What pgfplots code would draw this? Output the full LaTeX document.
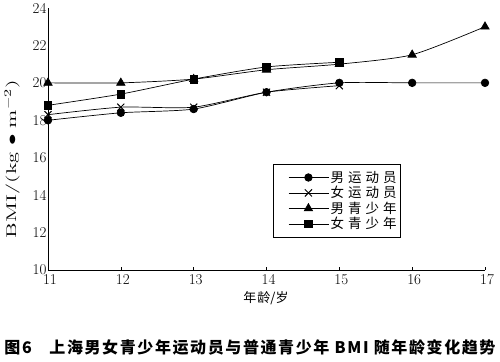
\documentclass[border=0pt]{standalone}
\usepackage{fontspec}
\usepackage{graphicx}
\usepackage{pgfplots}
\pgfplotsset{compat=1.18}
\newfontfamily\cjk{Noto Sans CJK SC}
\begin{document}
\begin{tikzpicture}
\useasboundingbox (-48pt,-91pt) rectangle (452pt,270pt);
\begin{axis}[
  scale only axis,
  width=437pt, height=262pt,
  xmin=11, xmax=17, ymin=10, ymax=24,
  xtick={11,12,13,14,15,16,17},
  ytick={10,12,14,16,18,20,22,24},
  axis x line=bottom, axis y line=left,
  axis line style={-, line width=0.8pt},
  x tick style={draw=black, line width=0.5pt},
  y tick style={draw=none},
  major tick length=3pt,
  tick align=inside,
  /pgf/number format/assume math mode=true,
  tick label style={font=\fontsize{15}{15}\selectfont},
  yticklabel style={xshift=2pt},
  xticklabel style={yshift=-1pt, xshift=2pt},
  clip=false,
  legend style={at={(axis description cs:0.515,0.405)}, anchor=north west,
    draw=black, line width=0.6pt, font=\cjk\fontsize{13.5}{14}\selectfont,
    inner xsep=2pt, inner ysep=5pt, row sep=-1.4pt},
  legend cell align=left,
  legend image code/.code={\path (-0.45cm,0cm); \draw[mark repeat=2,mark phase=2,line width=0.7pt] plot coordinates {(0cm,0cm) (0.7cm,0cm) (1.4cm,0cm)};},
  every axis plot/.append style={black, line width=0.7pt, smooth, tension=0.4},
]
\addplot[mark=*, mark size=3.8pt] coordinates {(11,18.0) (12,18.4) (13,18.6) (14,19.5) (15,20.0) (16,20.0) (17,20.0)};
\addlegendentry{男\hspace{4pt}运\hspace{4pt}动\hspace{4pt}员\hspace{24pt}}
\addplot[mark=x, mark size=5pt, mark options={line width=1pt}] coordinates {(11,18.3) (12,18.7) (13,18.7) (14,19.5) (15,19.85)};
\addlegendentry{女\hspace{4pt}运\hspace{4pt}动\hspace{4pt}员\hspace{24pt}}
\addplot[mark=triangle*, mark size=4.8pt] coordinates {(11,20.0) (12,20.0) (13,20.2) (14,20.7) (15,21.0) (16,21.5) (17,23.0)};
\addlegendentry{男\hspace{4pt}青\hspace{4pt}少\hspace{4pt}年\hspace{24pt}}
\addplot[mark=square*, mark size=3.8pt] coordinates {(11,18.8) (12,19.4) (13,20.2) (14,20.85) (15,21.1)};
\addlegendentry{女\hspace{4pt}青\hspace{4pt}少\hspace{4pt}年\hspace{24pt}}
\end{axis}
\node[rotate=90, font=\fontsize{14}{14}\selectfont, inner sep=0pt] at (-36pt,111pt) {\resizebox{158pt}{\height}{BMI/(kg\;$\bullet$\;m$^{-2}$)}};
\node[font=\cjk\fontsize{13}{13}\selectfont] at (218pt,-28pt) {年\hspace{1pt}龄/岁};
\node[font=\cjk\bfseries\fontsize{16}{16}\selectfont\addfontfeatures{LetterSpace=10}] at (202pt,-77pt) {图6\hspace{1.1em}上海男女青少年运动员与普通青少年 BMI 随年龄变化趋势};
\end{tikzpicture}
\end{document}
